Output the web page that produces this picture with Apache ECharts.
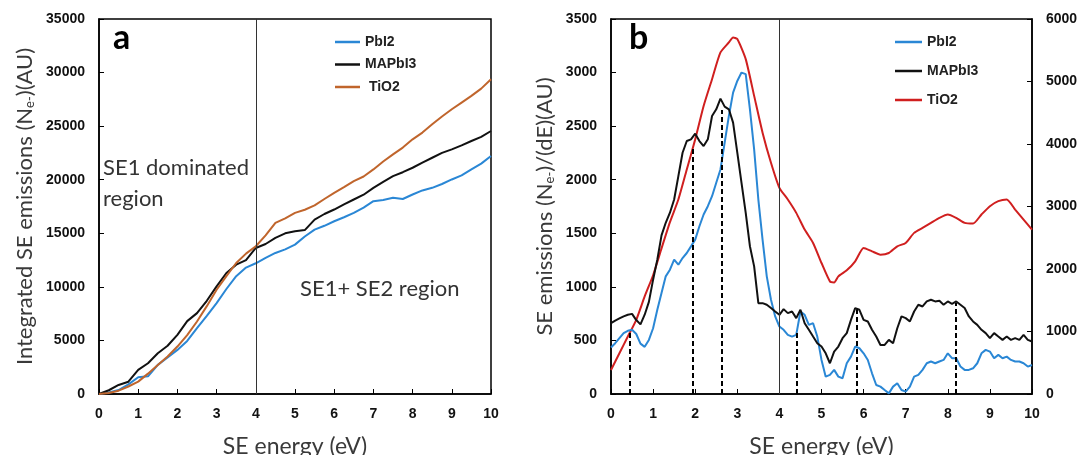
<!DOCTYPE html>
<html>
<head>
<meta charset="utf-8">
<script src="https://cdn.jsdelivr.net/npm/echarts@6/dist/echarts.min.js"></script>
<style>
html,body{margin:0;padding:0;background:#fff;}
#chart{width:1081px;height:455px;}
</style>
</head>
<body>
<div id="chart"></div>
<script>
// ---------- Panel a: integrated SE emissions ----------
const energyA = [0,0.25,0.5,0.75,1,1.25,1.5,1.75,2,2.25,2.5,2.75,3,3.25,3.5,3.75,4,4.25,4.5,4.75,5,5.25,5.5,5.75,6,6.25,6.5,6.75,7,7.25,7.5,7.75,8,8.25,8.5,8.75,9,9.25,9.5,9.75,10];
const pbi2A = [0,150,374,900,1560,1650,2714,3400,4117,4950,6144,7300,8484,9800,11000,11800,12200,12700,13162,13500,13942,14700,15345,15700,16125,16500,16905,17400,17996,18100,18308,18200,18620,19000,19244,19600,20024,20400,20960,21500,22207];
const mapbi3A = [0,350,842,1150,2246,2870,3805,4500,5521,6800,7548,8700,10043,11291,12070,12500,13630,14000,14566,15000,15189,15300,16281,16800,17217,17700,18153,18600,19244,19800,20336,20700,21116,21600,22051,22500,22831,23200,23611,24000,24547];
const tio2A = [0,100,312,700,1154,1900,2714,3500,4429,5500,6768,8200,9731,11000,12226,13100,13786,14800,15969,16400,16905,17200,17600,18200,18776,19300,19868,20300,20960,21700,22363,23000,23767,24400,25170,25900,26574,27200,27822,28500,29382];

// ---------- Panel b: SE emission spectra ----------
const energyB = [0,0.1,0.2,0.3,0.4,0.5,0.6,0.7,0.8,0.9,1,1.1,1.2,1.3,1.4,1.5,1.6,1.7,1.8,1.9,2,2.1,2.2,2.3,2.4,2.5,2.6,2.7,2.8,2.9,3,3.1,3.2,3.3,3.4,3.5,3.6,3.7,3.8,3.9,4,4.1,4.2,4.3,4.4,4.5,4.6,4.7,4.8,4.9,5,5.1,5.2,5.3,5.4,5.5,5.6,5.7,5.8,5.9,6,6.1,6.2,6.3,6.4,6.5,6.6,6.7,6.8,6.9,7,7.1,7.2,7.3,7.4,7.5,7.6,7.7,7.8,7.9,8,8.1,8.2,8.3,8.4,8.5,8.6,8.7,8.8,8.9,9,9.1,9.2,9.3,9.4,9.5,9.6,9.7,9.8,9.9,10];
const pbi2B = [434,474,521,568,590,600,560,470,440,505,614,786,942,1098,1160,1254,1207,1269,1316,1378,1441,1566,1675,1753,1846,1971,2096,2346,2595,2813,2922,3000,2985,2657,2283,1815,1441,1098,880,724,630,599,552,536,552,770,739,645,661,536,318,162,178,225,162,147,287,349,443,427,380,318,193,84,69,37,6,69,100,37,22,69,162,178,225,287,303,287,303,318,380,334,334,256,225,225,240,287,380,412,396,334,365,334,349,318,303,303,287,256,271];
const mapbi3B = [661,685,705,725,740,748,690,650,740,860,1067,1254,1480,1598,1692,1815,2034,2252,2361,2377,2430,2361,2314,2377,2595,2657,2757,2682,2657,2533,2252,1971,1690,1379,1191,848,848,833,802,770,739,792,755,770,708,786,661,599,536,474,443,380,287,396,443,521,568,692,802,786,692,677,599,536,458,458,505,474,614,724,708,677,770,833,817,864,880,864,870,833,864,842,864,833,802,724,677,645,599,568,521,568,536,505,536,505,521,505,552,505,490];
const energyR = [0,0.2,0.4,0.6,0.8,1,1.2,1.4,1.6,1.8,2,2.2,2.4,2.6,2.8,2.9,3,3.2,3.4,3.6,3.8,4,4.2,4.4,4.6,4.8,5,5.2,5.3,5.4,5.6,5.8,6,6.2,6.4,6.6,6.8,7,7.2,7.4,7.6,7.8,8,8.2,8.4,8.6,8.8,9,9.2,9.4,9.6,9.8,10];
const tio2B = [385,652,919,1187,1561,1900,2330,2750,3112,3593,4074,4609,5037,5465,5625,5705,5679,5358,4770,4181,3700,3299,3112,2898,2631,2417,2096,1802,1786,1882,1979,2123,2336,2283,2230,2256,2363,2417,2578,2658,2738,2818,2872,2818,2738,2727,2872,3005,3086,3112,2951,2791,2631];

// dashed peak markers in panel b
const dashX = [0.44,1.94,2.64,4.41,5.84,8.18];
const dashTop = [575,2300,2650,580,790,850];

const BLUE = '#2a87d5', BLACK = '#111111', BROWN = '#c0652c', RED = '#d01f1f';
const zip = (xs, ys) => xs.map((x, i) => [x, ys[i]]);

const tickFont = {fontFamily:'Liberation Sans', fontWeight:'bold', fontSize:14, color:'#111'};
const nameFont = () => ({fontFamily:'Lato', fontSize:22, color:'#3a3a3a',
  rich:{s:{fontFamily:'Lato', fontSize:13, color:'#3a3a3a', padding:[9,0,0,0]}}});

function xAx(grid){
  return {type:'value', gridIndex:grid, min:0, max:10, interval:1,
    name:'SE energy (eV)', nameLocation:'middle', nameGap:41, nameTextStyle:{fontFamily:'Lato', fontSize:23, color:'#3a3a3a'},
    axisLine:{lineStyle:{color:'#000', width:1.5}}, axisTick:{inside:true, length:5, lineStyle:{color:'#000'}},
    axisLabel:{...tickFont, margin:13, formatter:v=>String(v)}, splitLine:{show:false}};
}
function yAx(grid, max, interval, opts){
  return Object.assign({type:'value', gridIndex:grid, min:0, max:max, interval:interval,
    axisLine:{show:true, lineStyle:{color:'#000', width:1.5}}, axisTick:{show:true, inside:true, length:5, lineStyle:{color:'#000'}},
    axisLabel:{...tickFont, margin:14, formatter:v=>String(v)}, splitLine:{show:false}}, opts);
}
const lineS = (name, xi, yi, data, color, extra) => Object.assign({
  name, type:'line', xAxisIndex:xi, yAxisIndex:yi, data, symbol:'none', showSymbol:false,
  lineStyle:{color, width:2}, itemStyle:{color}}, extra || {});

const vline = {symbol:'none', silent:true, label:{show:false}, lineStyle:{color:'#333', width:1, type:'solid'}, data:[{xAxis:4}]};
const legendText = {fontFamily:'Liberation Sans', fontWeight:'bold', fontSize:14, color:'#222'};

const option = {
  animation:false,
  backgroundColor:'#fff',
  grid:[
    {left:99, top:19, width:392, height:375, outerBoundsMode:'none', containLabel:false, show:true, borderColor:'#000', borderWidth:1.5, backgroundColor:'transparent'},
    {left:611, top:19, width:421, height:375, outerBoundsMode:'none', containLabel:false, show:true, borderColor:'#000', borderWidth:1.5, backgroundColor:'transparent'}
  ],
  xAxis:[xAx(0), xAx(1)],
  yAxis:[
    yAx(0, 35000, 5000, {name:'Integrated SE emissions (N{s|e-})(AU)', nameLocation:'middle', nameGap:63, nameTextStyle:nameFont()}),
    yAx(1, 3500, 500, {name:'SE emissions (N{s|e-})/(dE)(AU)', nameLocation:'middle', nameGap:55, nameTextStyle:nameFont()}),
    yAx(1, 6000, 1000, {position:'right'})
  ],
  legend:[
    {data:['PbI2','MAPbI3',' TiO2'], orient:'vertical', left:330, top:30, icon:'rect', itemWidth:25, itemHeight:2.5, itemGap:8.5,
     textStyle:legendText, selectedMode:false},
    {data:['PbI2','MAPbI3','TiO2'], orient:'vertical', left:890, top:30, icon:'rect', itemWidth:27, itemHeight:2.5, itemGap:15,
     textStyle:legendText, selectedMode:false}
  ],
  graphic:[
    {type:'text', left:113, top:21, style:{text:'a', fontFamily:'Lato', fontWeight:'bold', fontSize:34, fill:'#000'}},
    {type:'text', left:629, top:21, style:{text:'b', fontFamily:'Lato', fontWeight:'bold', fontSize:34, fill:'#000'}},
    {type:'text', left:103, top:152, style:{text:'SE1 dominated\nregion', fontFamily:'Lato', fontSize:22, lineHeight:31, fill:'#333'}},
    {type:'text', left:300, top:278, style:{text:'SE1+ SE2 region', fontFamily:'Lato', fontSize:22, fill:'#333'}}
  ],
  series:[
    lineS('PbI2', 0, 0, zip(energyA, pbi2A), BLUE, {markLine:vline}),
    lineS('MAPbI3', 0, 0, zip(energyA, mapbi3A), BLACK),
    lineS(' TiO2', 0, 0, zip(energyA, tio2A), BROWN),
    lineS('TiO2', 1, 2, zip(energyR, tio2B), RED, {smooth:0.2}),
    lineS('PbI2', 1, 1, zip(energyB, pbi2B), BLUE, {markLine:vline}),
    lineS('MAPbI3', 1, 1, zip(energyB, mapbi3B), BLACK, {markLine:{symbol:'none', silent:true, label:{show:false},
      lineStyle:{color:'#000', width:2, type:[5,3]},
      data: dashX.map((x, i) => [{coord:[x, 0]}, {coord:[x, dashTop[i]]}])}})
  ]
};
const chart = echarts.init(document.getElementById('chart'), null, {renderer:'canvas'});
chart.setOption(option);
</script>
</body>
</html>
